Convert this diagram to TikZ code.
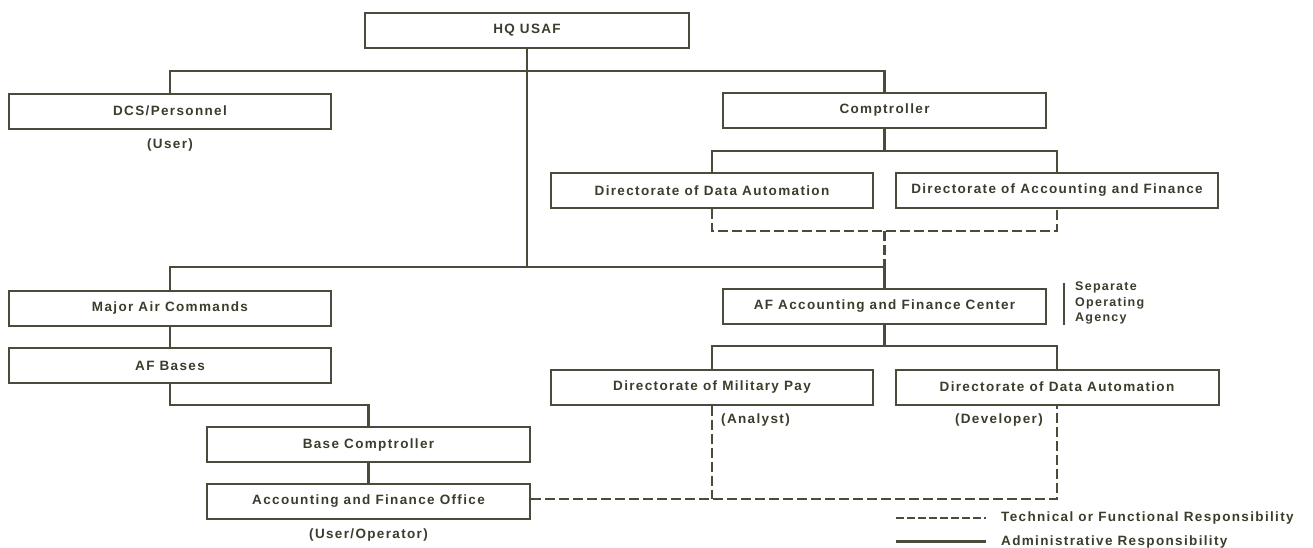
\documentclass[tikz,border=0pt]{standalone}
\usepackage{fontspec}
\setmainfont{Liberation Sans}[LetterSpace=10]
\begin{document}
\begin{tikzpicture}[x=1pt,y=-1pt,
  ink/.style={draw=inkc,line width=2pt},
  box/.style={ink,rectangle,minimum height=35pt,inner sep=0pt,font=\orgfont,text=txtc},
  lbl/.style={inner sep=0pt,font=\orgfont,text=txtc},
  tech/.style={draw=inkc,line width=2.2pt,dash pattern=on 10pt off 4pt},
  admin/.style={draw=inkc,line width=2.2pt}]
\definecolor{inkc}{HTML}{4B4B3C}
\definecolor{txtc}{HTML}{3C3C2C}
\newcommand\orgfont{\fontsize{13.5}{15}\selectfont\bfseries}
\useasboundingbox (0,0) rectangle (1313,547);

% boxes
\node[box,minimum width=324pt] (hq)    at (527,30)     {HQ USAF};
\node[box,minimum width=322pt] (dcs)   at (170,111)    {DCS/Personnel};
\node[box,minimum width=323pt] (comp)  at (884.5,110)  {Comptroller};
\node[box,minimum width=322pt] (dda)   at (712,190.5)  {Directorate of Data Automation};
\node[box,minimum width=322pt] (daf)   at (1057,190.5) {Directorate of Accounting and Finance};
\node[box,minimum width=322pt] (mac)   at (170,308.5)  {Major Air Commands};
\node[box,minimum width=322pt] (afb)   at (170,365.5)  {AF Bases};
\node[box,minimum width=323pt] (afafc) at (884.5,306)  {AF Accounting and Finance Center};
\node[box,minimum width=322pt] (dmp)   at (712,387)    {Directorate of Military Pay};
\node[box,minimum width=323pt] (dda2)  at (1057,387)   {Directorate of Data Automation};
\node[box,minimum width=323pt] (bc)    at (368.5,444.5){Base Comptroller};
\node[box,minimum width=323pt] (afo)   at (368.5,501.5){Accounting and Finance Office};

% role labels
\node[lbl] (user)  at (170,145)   {(User)};
\node[lbl,anchor=west] (anl) at (721,420) {(Analyst)};
\node[lbl,anchor=east] (dev) at (1043,420) {(Developer)};
\node[lbl] (uop)   at (368.5,535) {(User/Operator)};
\node[lbl,anchor=north west,align=left,font=\fontsize{12.5}{15.5}\selectfont\bfseries] (soa) at (1075,282)
  {Separate\\Operating\\Agency};
\coordinate (sa) at (1064,283);
\coordinate (sb) at (1064,325);
\draw[draw=inkc,line width=1.5pt] (sa) -- (sb);

% administrative lines
\coordinate (top)  at (527,70.7);
\coordinate (mid)  at (527,266.7);
\coordinate (cj)   at (884.5,150.7);
\coordinate (aj)   at (884.5,346);
\coordinate (bj)   at (368.5,405);
\draw[admin] (hq.south) -- (mid);
\draw[admin] (dcs.north) |- (top) -| (comp.north);
\draw[admin] (comp.south) -- (cj);
\draw[admin] (dda.north) |- (cj) -| (daf.north);
\draw[admin] (mac.north) |- (mid) -| (afafc.north);
\draw[admin] (afafc.south) -- (aj);
\draw[admin] (dmp.north) |- (aj) -| (dda2.north);
\draw[admin] (mac.south) -- (afb.north);
\draw[admin] (afb.south) |- (bj) -- (bc.north);
\draw[admin] (bc.south) -- (afo.north);

% technical lines
\coordinate (tj) at (884.5,231);
\coordinate (tm) at (884.5,266.7);
\draw[tech] (dda.south) |- (tj) -| (daf.south);
\draw[tech] (tj) -- (tm);
\coordinate (tb) at (1057,499);
\draw[tech] (afo.east |- tb) -- (tb) -- (dda2.south);
\draw[tech] (dmp.south) -- (dmp.south |- tb);

% legend
\coordinate (l1a) at (896,518);
\coordinate (l1b) at (986,518);
\coordinate (l2a) at (896,541.5);
\coordinate (l2b) at (986,541.5);
\draw[tech,dash pattern=on 8pt off 3pt] (l1a) -- (l1b);
\draw[admin] (l2a) -- (l2b);
\node[lbl,anchor=west] (lt) at (1001,518) {Technical or Functional Responsibility};
\node[lbl,anchor=west] (la) at (1001,541.5) {Administrative Responsibility};
\end{tikzpicture}
\end{document}
